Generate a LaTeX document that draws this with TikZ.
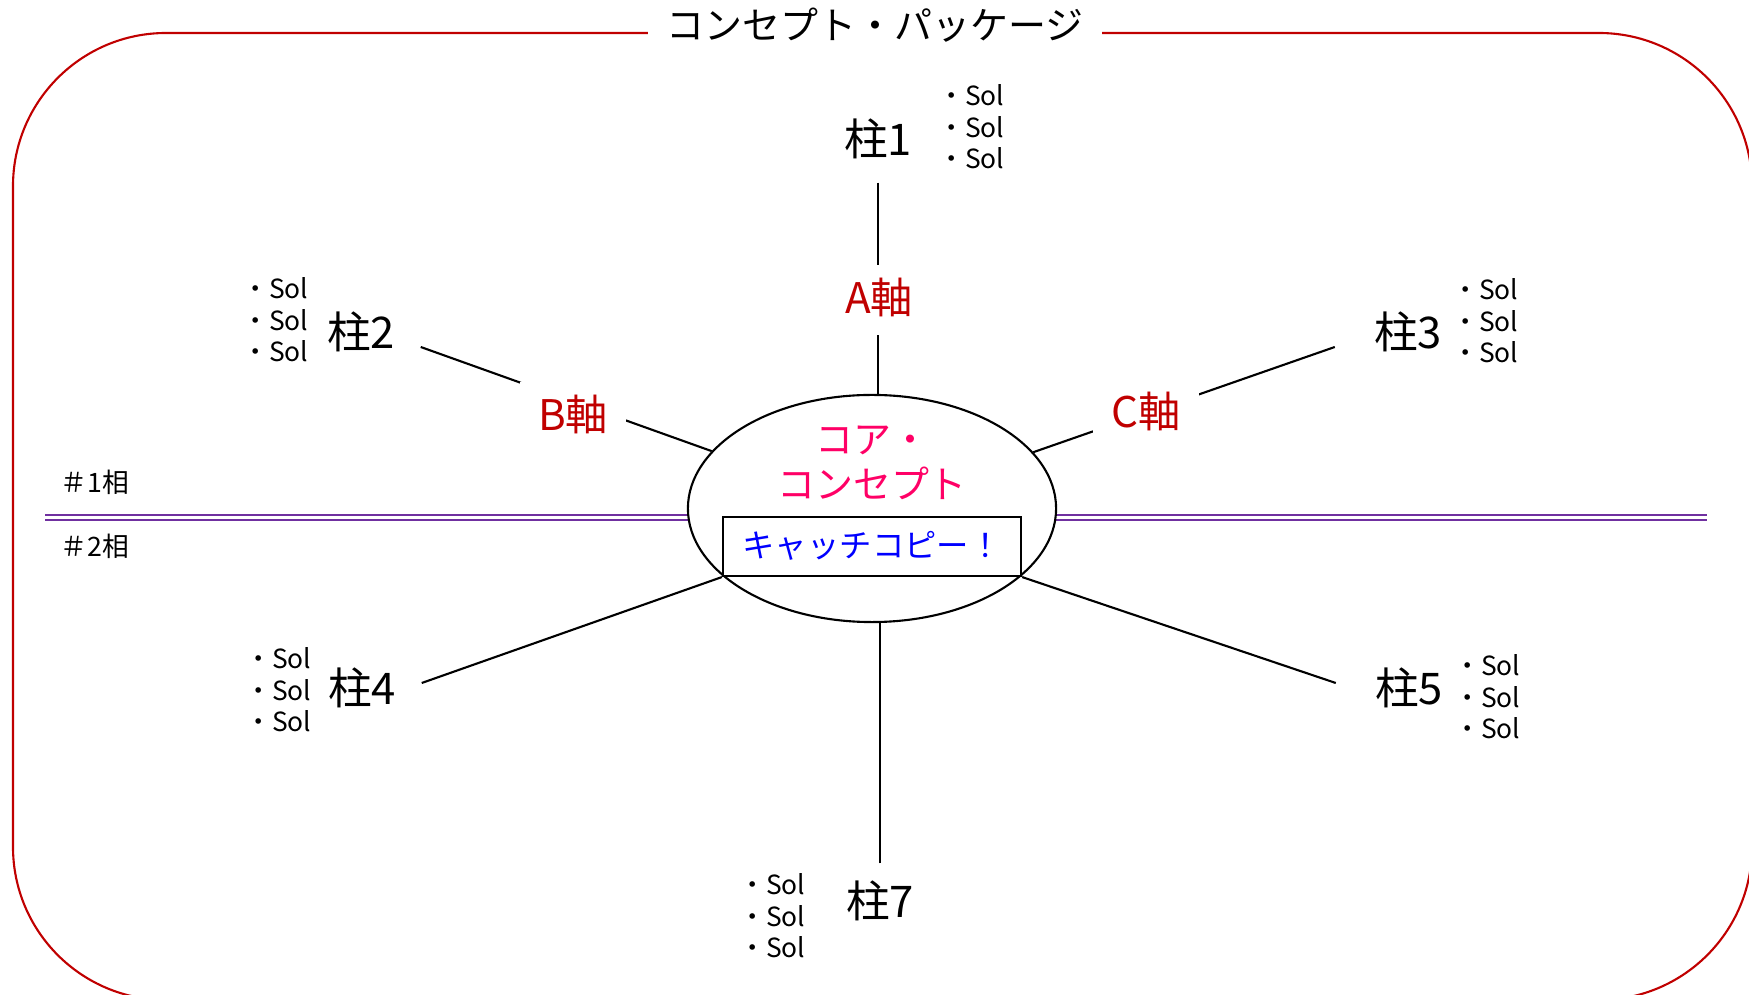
\documentclass[tikz,border=0pt]{standalone}
\usepackage{fontspec}
\setmainfont{Noto Sans CJK JP}
\usetikzlibrary{shapes.geometric}
\definecolor{framered}{HTML}{C00000}
\definecolor{axisred}{HTML}{C00000}
\definecolor{corepink}{HTML}{FF0066}
\definecolor{catchblue}{HTML}{0000FF}
\definecolor{phasepurple}{HTML}{7030A0}
\tikzset{
  pillar/.style={font=\fontsize{12.4pt}{14pt}\selectfont, inner sep=0pt,
    minimum width=1.18cm, minimum height=0.8cm, text height=0.88em, text depth=0.12em},
  pillarR/.style={pillar, minimum width=1.45cm},
  axislbl/.style={font=\fontsize{12pt}{14pt}\selectfont, text=axisred, fill=white,
    inner sep=0pt, minimum width=1.06cm, minimum height=0.7cm, text height=0.88em, text depth=0.12em},
  sollist/.style={font=\fontsize{7.5pt}{9pt}\selectfont, align=left, anchor=west, inner sep=0pt},
  phaselbl/.style={font=\fontsize{7.6pt}{9pt}\selectfont, anchor=west, inner sep=0pt},
  conn/.style={draw=black, line width=0.6pt},
  phase/.style={draw=phasepurple, double=white, line width=0.8pt, double distance=0.6pt},
  framebox/.style={draw=framered, line width=0.6pt, rounded corners=1.53cm},
  titlelbl/.style={font=\fontsize{10.8pt}{13pt}\selectfont, fill=white, inner sep=0pt,
    minimum width=4.54cm, minimum height=0.6cm},
  coreshape/.style={ellipse, draw=black, line width=0.6pt, fill=white, inner sep=0pt,
    minimum width=3.68cm, minimum height=2.27cm},
  coretext/.style={font=\fontsize{10.8pt}{12.8pt}\selectfont, text=corepink, align=center, inner sep=0pt},
  catchbox/.style={draw=black, line width=0.6pt, fill=white, inner sep=0pt,
    minimum width=2.98cm, minimum height=0.59cm, font=\fontsize{9.2pt}{11pt}\selectfont,
    text=catchblue, text height=0.8em, text depth=0.2em}
}
\begin{document}
\begin{tikzpicture}[x=0.01cm, y=-0.01cm]
  \useasboundingbox (0,0) rectangle (1749,995);
  \clip (0,0) rectangle (1749,995);
  % frame
  \draw[framebox] (13,33) rectangle (1752,1000);
  % phase divider
  \coordinate (pl) at (45,517.5);
  \coordinate (pr) at (1707,517.5);
  \draw[phase] (pl) -- (pr);
  \node[phaselbl] (ph1) at (60,482) {＃1相};
  \node[phaselbl] (ph2) at (60,546) {＃2相};
  % pillars
  \node[pillar] (p1) at (878,142) {柱1};
  \node[pillar] (p2) at (361,335) {柱2};
  \node[pillarR] (p3) at (1408,335) {柱3};
  \node[pillar] (p4) at (362,691) {柱4};
  \node[pillarR] (p5) at (1409,691) {柱5};
  \node[pillar] (p7) at (880,904) {柱7};
  % solution lists
  \node[sollist] (s1) at (938,127) {・Sol\\・Sol\\・Sol};
  \node[sollist] (s2) at (242,320) {・Sol\\・Sol\\・Sol};
  \node[sollist] (s3) at (1452,321) {・Sol\\・Sol\\・Sol};
  \node[sollist] (s4) at (245,690) {・Sol\\・Sol\\・Sol};
  \node[sollist] (s5) at (1454,697) {・Sol\\・Sol\\・Sol};
  \node[sollist] (s7) at (739,916) {・Sol\\・Sol\\・Sol};
  % core
  \node[coreshape] (core) at (872,508.5) {};
  \node[coretext] (ctext) at (872,462.5) {コア・\\コンセプト};
  \node[catchbox] (catch) at (872,546.5) {キャッチコピー！};
  % connectors
  \draw[conn] (p1.south) -- (p1.south |- core.north);
  \draw[conn] (p7.north) -- (p7.north |- core.south);
  \draw[conn] ([yshift=-0.12cm]p2.east) -- (core);
  \draw[conn] ([yshift=-0.12cm]p3.west) -- (core);
  \draw[conn] ([yshift=0.08cm]p4.east) -- (catch.south west);
  \draw[conn] ([yshift=0.08cm]p5.west) -- (catch.south east);
  % axis labels
  \node[axislbl] (axA) at (879,300) {A軸};
  \node[axislbl] (axB) at (573,417) {B軸};
  \node[axislbl] (axC) at (1146,414) {C軸};
  % title
  \node[titlelbl] (title) at (875,25) {コンセプト・パッケージ};
\end{tikzpicture}
\end{document}
